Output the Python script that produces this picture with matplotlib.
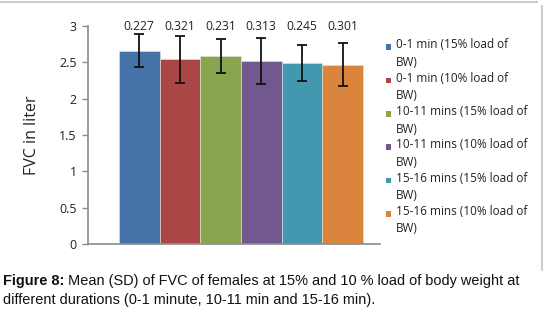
import matplotlib.pyplot as plt
from matplotlib.patches import Rectangle
from matplotlib.lines import Line2D

# values
labels = ["0-1 min (15% load of\nBW)", "0-1 min (10% load of\nBW)",
          "10-11 mins (15% load of\nBW)", "10-11 mins (10% load of\nBW)",
          "15-16 mins (15% load of\nBW)", "15-16 mins (10% load of\nBW)"]
means = [2.66, 2.54, 2.59, 2.52, 2.49, 2.47]
sds = [0.227, 0.321, 0.231, 0.313, 0.245, 0.301]
sd_text = ["0.227", "0.321", "0.231", "0.313", "0.245", "0.301"]
colors = ["#4572A7", "#AA4643", "#89A54E", "#71588F", "#4198AF", "#DB843D"]
yticks = [0, 0.5, 1, 1.5, 2, 2.5, 3]
ytick_labels = ["0", "0.5", "1", "1.5", "2", "2.5", "3"]

W, H = 544, 311
fig = plt.figure(figsize=(W / 100, H / 100), dpi=100)
ui_font = ["Open Sans", "DejaVu Sans"]

# plot area in pixels: x 88..380, y 26..244
ax = fig.add_axes([88 / W, 1 - 244 / H, (380 - 88) / W, (244 - 26) / H])
x = list(range(len(means)))
ax.bar(x, means, width=1.0, color=colors, edgecolor="#e6e6e6", linewidth=0.4)
ax.errorbar(x, means, yerr=sds, fmt="none", ecolor="#111111",
            elinewidth=1.3, capsize=3.5, capthick=1.3)
for xi, t in zip(x, sd_text):
    ax.text(xi, 3.0, t, ha="center", va="center", fontsize=8.7,
            family=ui_font, color="#222222")

ax.set_xlim(-1.26, 5.92)
ax.set_ylim(0, 3)
ax.set_yticks(yticks)
ax.set_yticklabels(ytick_labels, family=ui_font, fontsize=9, color="#222222")
ax.set_xticks([])
for s in ["top", "right"]:
    ax.spines[s].set_visible(False)
for s in ["left", "bottom"]:
    ax.spines[s].set_color("#8c8c8c")
    ax.spines[s].set_linewidth(1.2)
ax.tick_params(axis="y", length=4, width=1.0, color="#8c8c8c", pad=4)
ax.set_ylabel("FVC in liter", family=ui_font, fontsize=11.5, color="#222222",
              labelpad=14)

# legend drawn by hand so the swatch sits on the first line
for i, (lab, c) in enumerate(zip(labels, colors)):
    ytop = 47 + i * 33.3
    fig.patches.append(Rectangle((385.5 / W, 1 - (ytop + 3) / H), 5.5 / W, 5.5 / H,
                                 transform=fig.transFigure, facecolor=c,
                                 edgecolor="none"))
    fig.text(396 / W, 1 - (ytop - 8.5) / H, lab, ha="left", va="top",
             fontsize=8.5, family=ui_font, color="#222222", linespacing=1.45)

# chart frame (top and right edges)
fig.lines.append(Line2D([0, 537 / W], [1 - 1.5 / H, 1 - 1.5 / H],
                        transform=fig.transFigure, color="#c6c6c6", lw=1.3))
fig.lines.append(Line2D([541.5 / W, 541.5 / W], [1 - 6 / H, 1 - 270 / H],
                        transform=fig.transFigure, color="#c6c6c6", lw=1.3))

# caption
cap_font = ["Liberation Sans", "DejaVu Sans"]
cap_size = 10.45
head = fig.text(3 / W, 1 - 281 / H, "Figure 8:", ha="left", va="center",
                fontsize=cap_size, family=cap_font, weight="bold", color="#111111")
renderer = fig.canvas.get_renderer()
head_end = head.get_window_extent(renderer).x1
fig.text(head_end / W + 3.5 / W, 1 - 281 / H,
         "Mean (SD) of FVC of females at 15% and 10 % load of body weight at",
         ha="left", va="center", fontsize=cap_size, family=cap_font, color="#111111")
fig.text(3 / W, 1 - 300 / H,
         "different durations (0-1 minute, 10-11 min and 15-16 min).",
         ha="left", va="center", fontsize=cap_size, family=cap_font, color="#111111")

fig.savefig("out.png", dpi=100)
